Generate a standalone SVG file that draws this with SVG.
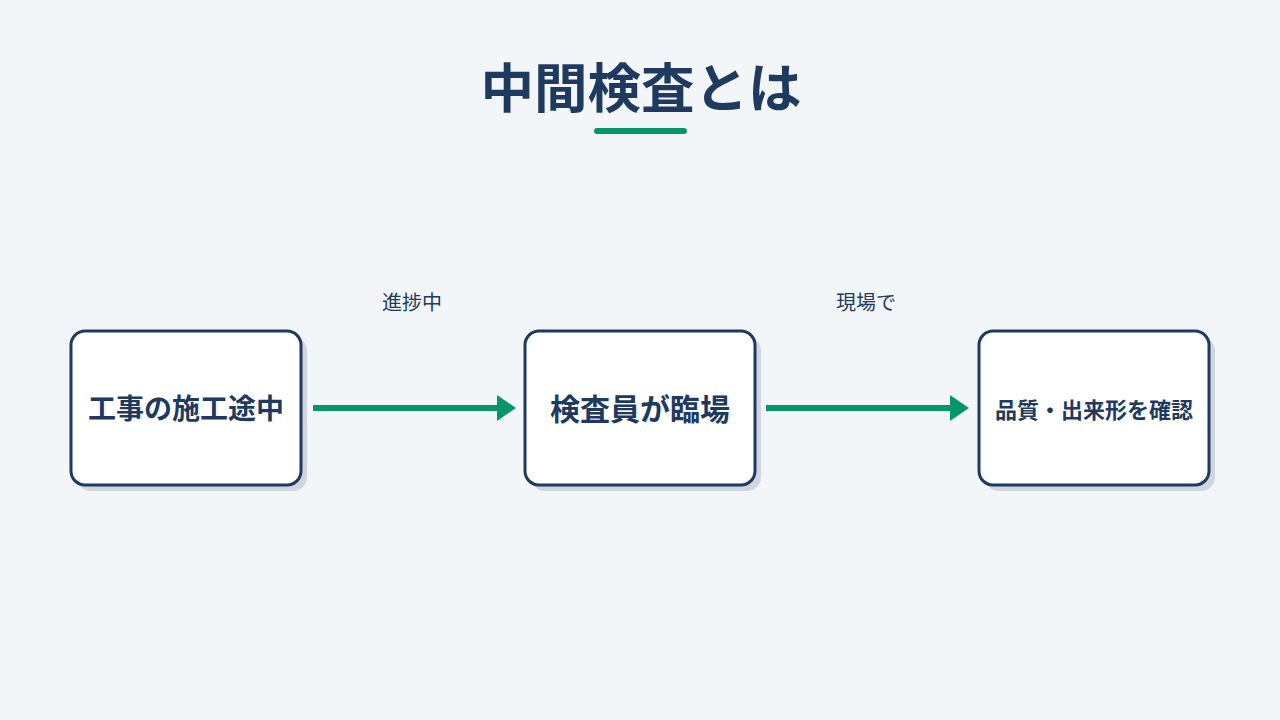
<svg xmlns="http://www.w3.org/2000/svg" width="1280" height="720" viewBox="0 0 1280 720">
<style>
.title{font-family:"Noto Sans CJK JP","Noto Sans",sans-serif;font-weight:700;fill:#1e3a5f}
.box{fill:#ffffff;stroke:#1e3a5f;stroke-width:3}
.shadow{fill:#cfd6e0}
.ntext{font-family:"Noto Sans CJK JP","Noto Sans",sans-serif;font-weight:700;fill:#1e3a5f;text-anchor:middle;dominant-baseline:central}
.elabel{font-family:"Noto Sans CJK JP","Noto Sans",sans-serif;font-size:20px;fill:#1e3a5f;text-anchor:middle}
.conn{stroke:#059669;stroke-width:6;fill:none}
</style>
<defs>
<marker id="ah" markerWidth="19" markerHeight="26" refX="0" refY="13" orient="auto" markerUnits="userSpaceOnUse">
<path d="M0,0 L19,13 L0,26 Z" fill="#059669"/>
</marker>
</defs>
<rect width="1280" height="720" fill="#f3f6f9"/>
<g id="title">
<text class="title" x="641" y="108" font-size="53.5" text-anchor="middle">中間検査とは</text>
<line x1="597" y1="131" x2="684" y2="131" stroke="#059669" stroke-width="6" stroke-linecap="round"/>
</g>
<g id="connectors">
<line class="conn" x1="313" y1="408" x2="497" y2="408" marker-end="url(#ah)"/>
<text class="elabel" x="412" y="310">進捗中</text>
<line class="conn" x1="766" y1="408" x2="950" y2="408" marker-end="url(#ah)"/>
<text class="elabel" x="866" y="310">現場で</text>
</g>
<g id="node1">
<rect class="shadow" x="77" y="337" width="230" height="154" rx="14"/>
<rect class="box" x="71" y="331" width="230" height="154" rx="14"/>
<text class="ntext" x="186" y="407" font-size="28">工事の施工途中</text>
</g>
<g id="node2">
<rect class="shadow" x="531" y="337" width="230" height="154" rx="14"/>
<rect class="box" x="525" y="331" width="230" height="154" rx="14"/>
<text class="ntext" x="640" y="407" font-size="30">検査員が臨場</text>
</g>
<g id="node3">
<rect class="shadow" x="985" y="337" width="230" height="154" rx="14"/>
<rect class="box" x="979" y="331" width="230" height="154" rx="14"/>
<text class="ntext" x="1094" y="408" font-size="22">品質・出来形を確認</text>
</g>
</svg>
